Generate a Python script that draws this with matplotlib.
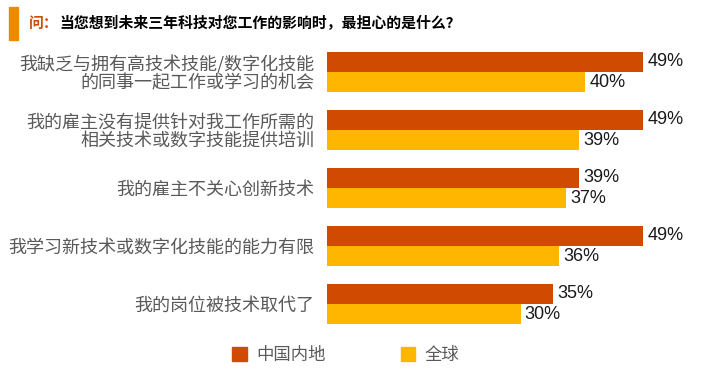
import matplotlib
matplotlib.use("Agg")
import matplotlib.pyplot as plt
from matplotlib.patches import Patch, Rectangle

plt.rcParams['font.family'] = ['Noto Sans CJK SC', 'DejaVu Sans']

categories = [
    "我缺乏与拥有高技术技能/数字化技能\n的同事一起工作或学习的机会",
    "我的雇主没有提供针对我工作所需的\n相关技术或数字技能提供培训",
    "我的雇主不关心创新技术",
    "我学习新技术或数字化技能的能力有限",
    "我的岗位被技术取代了",
]
china = [49, 49, 39, 49, 35]
world = [40, 39, 37, 36, 30]
series_names = ["中国内地", "全球"]

c_china = "#D04A02"
c_world = "#FFB600"
c_grey = "#595959"

W, H = 707, 379
fig = plt.figure(figsize=(W / 100, H / 100), dpi=100)

# title marker + question
fig.patches.append(Rectangle((9 / W, 1 - 40 / H), 9 / W, 33 / H,
                             transform=fig.transFigure, color="#EB8C00"))
q = fig.text(29 / W, 1 - 23 / H, "问：", color=c_china, fontsize=10.7,
             fontweight="bold", va="center")
fig.add_artist(matplotlib.text.Annotation(
    "当您想到未来三年科技对您工作的影响时，最担心的是什么？",
    xy=(1, 0.5), xycoords=q, xytext=(0.5, 0), textcoords="offset points",
    va="center", ha="left", color="black", fontsize=10.7, fontweight="bold"))

ax = fig.add_axes([327 / W, 1 - 333 / H, 355 / W, 290 / H])
h = 0.345
ys = list(range(len(categories)))
ax.barh([y - h / 2 for y in ys], china, height=h, color=c_china)
ax.barh([y + h / 2 for y in ys], world, height=h, color=c_world)
ax.set_xlim(0, 55)
ax.set_ylim(4.5, -0.5)

for y, v in zip(ys, china):
    ax.annotate(f"{v}%", (v, y - h / 2), xytext=(3, 0), textcoords="offset points",
                va="center", ha="left", fontsize=13, color="#1a1a1a",
                family=["Liberation Sans", "DejaVu Sans"])
for y, v in zip(ys, world):
    ax.annotate(f"{v}%", (v, y + h / 2), xytext=(3, 0), textcoords="offset points",
                va="center", ha="left", fontsize=13, color="#1a1a1a",
                family=["Liberation Sans", "DejaVu Sans"])

ax.set_yticks(ys)
ax.set_yticklabels(categories, fontsize=13, color=c_grey, linespacing=1.0)
ax.tick_params(axis="y", length=0, pad=9)
ax.set_xticks([])
for s in ax.spines.values():
    s.set_visible(False)

handles = [Patch(color=c_china), Patch(color=c_world)]
fig.legend(handles, series_names, loc="center", bbox_to_anchor=(346 / W, 1 - 355 / H),
           ncol=2, frameon=False, fontsize=12.5, handlelength=0.85, handleheight=0.85,
           handletextpad=0.55, columnspacing=4.3, labelcolor=c_grey)

fig.savefig("out.png", dpi=100)
